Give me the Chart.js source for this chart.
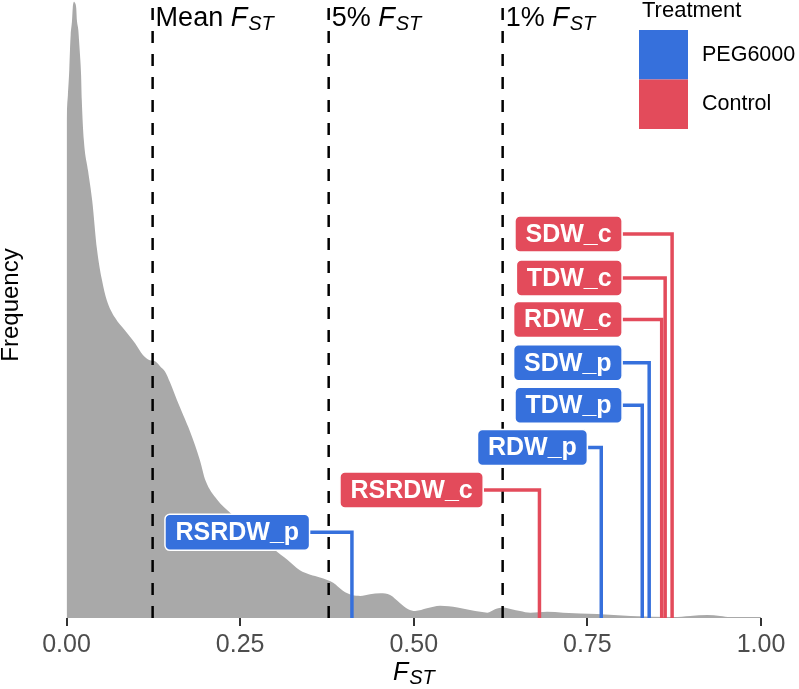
<!DOCTYPE html>
<html>
<head>
<meta charset="utf-8">
<script src="https://cdn.jsdelivr.net/npm/chart.js@4.4.1/dist/chart.umd.min.js"></script>
<style>
  body { margin: 0; background: #fff; }
  #wrap { width: 799px; height: 689px; }
</style>
</head>
<body>
<div id="wrap"><canvas id="fstChart" width="799" height="689"></canvas></div>
<script>
// density curve of Fst
var fstGrid = [0.000, 0.001, 0.002, 0.004, 0.005, 0.006, 0.008, 0.009, 0.011, 0.012, 0.014, 0.015,
    0.017, 0.018, 0.019, 0.021, 0.022, 0.025, 0.031, 0.037, 0.044, 0.051, 0.058, 0.070, 0.084,
    0.099, 0.110, 0.120, 0.127, 0.135, 0.142, 0.149, 0.159, 0.168, 0.178, 0.192, 0.200, 0.217,
    0.236, 0.257, 0.279, 0.300, 0.318, 0.336, 0.351, 0.365, 0.384, 0.398, 0.411, 0.423, 0.437,
    0.452, 0.466, 0.480, 0.492, 0.502, 0.519, 0.538, 0.563, 0.581, 0.596, 0.606, 0.617, 0.629,
    0.641, 0.653, 0.668, 0.692, 0.715, 0.764, 0.812, 0.874, 0.898, 0.923, 0.941, 0.956, 1.000];
var densityVals = [5.64, 5.81, 5.92, 6.21, 6.43, 6.60, 6.77, 6.91, 6.98, 6.97, 6.91, 6.77,
    6.66, 6.55, 6.43, 6.15, 5.87, 5.41, 5.07, 4.73, 4.17, 3.83, 3.60, 3.40, 3.26,
    3.11, 2.98, 2.92, 2.91, 2.85, 2.79, 2.67, 2.47, 2.30, 2.11, 1.79, 1.56, 1.34,
    1.19, 1.05, 0.92, 0.77, 0.66, 0.54, 0.49, 0.46, 0.40, 0.31, 0.26, 0.25, 0.27,
    0.28, 0.26, 0.17, 0.10, 0.08, 0.11, 0.14, 0.12, 0.09, 0.07, 0.06, 0.10, 0.12,
    0.10, 0.08, 0.06, 0.07, 0.06, 0.045, 0.023, 0.011, 0.023, 0.034, 0.023, 0.011, 0.011];

// threshold lines
var thresholdNames = ['Mean', '5%', '1%'];
var thresholdFst = [0.124, 0.3775, 0.628];

// trait markers
var traitNames = ['RSRDW_p', 'RSRDW_c', 'RDW_p', 'TDW_p', 'SDW_p', 'RDW_c', 'TDW_c', 'SDW_c'];
var traitFst = [0.411, 0.681, 0.770, 0.829, 0.839, 0.857, 0.862, 0.872];
var traitTreatment = ['PEG6000', 'Control', 'PEG6000', 'PEG6000', 'PEG6000', 'Control', 'Control', 'Control'];
var labelFst = [0.35, 0.60, 0.75, 0.80, 0.80, 0.80, 0.80, 0.80];
var labelHeight = [0.97, 1.45, 1.93, 2.41, 2.89, 3.38, 3.85, 4.35];

var treatments = ['PEG6000', 'Control'];
var treatmentColors = { 'PEG6000': '#3670DC', 'Control': '#E34B5B' };

var xTicks = [0, 0.25, 0.5, 0.75, 1];
var yMax = 7;

var FONT = '"Liberation Sans", Arial, sans-serif';

var datasets = [];

// connectors (on top)
for (var i = 0; i < traitNames.length; i++) {
    datasets.push({
        type: 'line',
        data: [
            { x: labelFst[i], y: labelHeight[i] },
            { x: traitFst[i], y: labelHeight[i] },
            { x: traitFst[i], y: 0 }
        ],
        borderColor: treatmentColors[traitTreatment[i]],
        borderWidth: 3.5,
        pointRadius: 0,
        fill: false,
        tension: 0,
        order: 1
    });
}

// dashed threshold lines
for (var j = 0; j < thresholdFst.length; j++) {
    datasets.push({
        type: 'line',
        data: [{ x: thresholdFst[j], y: 0 }, { x: thresholdFst[j], y: yMax }],
        borderColor: '#000',
        borderWidth: 2.5,
        borderDash: [12, 11],
        pointRadius: 0,
        fill: false,
        order: 2
    });
}

// density area
datasets.push({
    type: 'line',
    data: fstGrid.map(function (x, k) { return { x: x, y: densityVals[k] }; }),
    borderWidth: 0,
    borderColor: 'rgba(0,0,0,0)',
    backgroundColor: '#A9A9A9',
    pointRadius: 0,
    fill: 'origin',
    cubicInterpolationMode: 'monotone',
    order: 3
});

function drawFst(ctx, x, y, big, small, prefix) {
    // prefix (upright) + italic F + italic subscript ST
    ctx.textAlign = 'left';
    ctx.textBaseline = 'alphabetic';
    ctx.font = big + 'px ' + FONT;
    var cx = x;
    if (prefix) {
        ctx.fillText(prefix, cx, y);
        cx += ctx.measureText(prefix).width;
    }
    ctx.font = 'italic ' + big + 'px ' + FONT;
    ctx.fillText('F', cx, y);
    cx += ctx.measureText('F').width + 1;
    ctx.font = 'italic ' + small + 'px ' + FONT;
    ctx.fillText('ST', cx, y + 4);
}

var overlay = {
    id: 'overlay',
    afterDatasetsDraw: function (chart) {
        var ctx = chart.ctx;
        var xs = chart.scales.x, ys = chart.scales.y;
        ctx.save();

        // label boxes
        ctx.font = 'bold 25px ' + FONT;
        for (var i = 0; i < traitNames.length; i++) {
            var right = xs.getPixelForValue(labelFst[i]);
            var cy = ys.getPixelForValue(labelHeight[i]);
            var w = ctx.measureText(traitNames[i]).width + 21;
            var h = 36;
            ctx.beginPath();
            ctx.roundRect(right - w, cy - h / 2, w, h, 5);
            ctx.fillStyle = treatmentColors[traitTreatment[i]];
            ctx.fill();
            ctx.lineWidth = 1.5;
            ctx.strokeStyle = '#fff';
            ctx.stroke();
            ctx.fillStyle = '#fff';
            ctx.textAlign = 'center';
            ctx.textBaseline = 'middle';
            ctx.fillText(traitNames[i], right - w / 2, cy + 1);
        }

        // threshold annotations
        ctx.fillStyle = '#000';
        for (var j = 0; j < thresholdNames.length; j++) {
            var px = xs.getPixelForValue(thresholdFst[j]);
            drawFst(ctx, px + 3, 26, 27, 20, thresholdNames[j] + ' ');
        }

        // axis titles
        drawFst(ctx, 393, 680, 25, 20, '');
        ctx.save();
        ctx.translate(18, 305);
        ctx.rotate(-Math.PI / 2);
        ctx.font = '24px ' + FONT;
        ctx.textAlign = 'center';
        ctx.textBaseline = 'alphabetic';
        ctx.fillText('Frequency', 0, 0);
        ctx.restore();

        // legend
        ctx.fillStyle = '#000';
        ctx.font = '22px ' + FONT;
        ctx.textAlign = 'left';
        ctx.textBaseline = 'alphabetic';
        ctx.fillText('Treatment', 642, 17);
        for (var t = 0; t < treatments.length; t++) {
            ctx.fillStyle = treatmentColors[treatments[t]];
            ctx.fillRect(639, 30 + t * 49.5, 49, 49.5);
            ctx.fillStyle = '#000';
            ctx.font = '21.5px ' + FONT;
            ctx.textBaseline = 'middle';
            ctx.fillText(treatments[t], 702, 55 + t * 49.5);
        }
        ctx.restore();
    }
};

var canvasElement = document.getElementById('fstChart');
var fstChart = new Chart(canvasElement, {
    type: 'line',
    data: { datasets: datasets },
    options: {
        responsive: false,
        animation: false,
        layout: { padding: { left: 66.5, right: 38, top: 0, bottom: 0 } },
        plugins: { legend: { display: false }, tooltip: { enabled: false } },
        scales: {
            x: {
                type: 'linear',
                min: 0,
                max: 1,
                afterBuildTicks: function (scale) {
                    scale.ticks = xTicks.map(function (v) { return { value: v }; });
                },
                afterFit: function (scale) { scale.height = 71; },
                border: { display: false },
                grid: {
                    drawOnChartArea: false,
                    drawTicks: true,
                    tickLength: 8,
                    color: '#333',
                    lineWidth: 2
                },
                ticks: {
                    color: '#4D4D4D',
                    font: { family: FONT, size: 25 },
                    padding: 4,
                    maxRotation: 0,
                    callback: function (v) { return Number(v).toFixed(2); }
                }
            },
            y: {
                display: false,
                min: 0,
                max: yMax
            }
        }
    },
    plugins: [overlay]
});
</script>
</body>
</html>
